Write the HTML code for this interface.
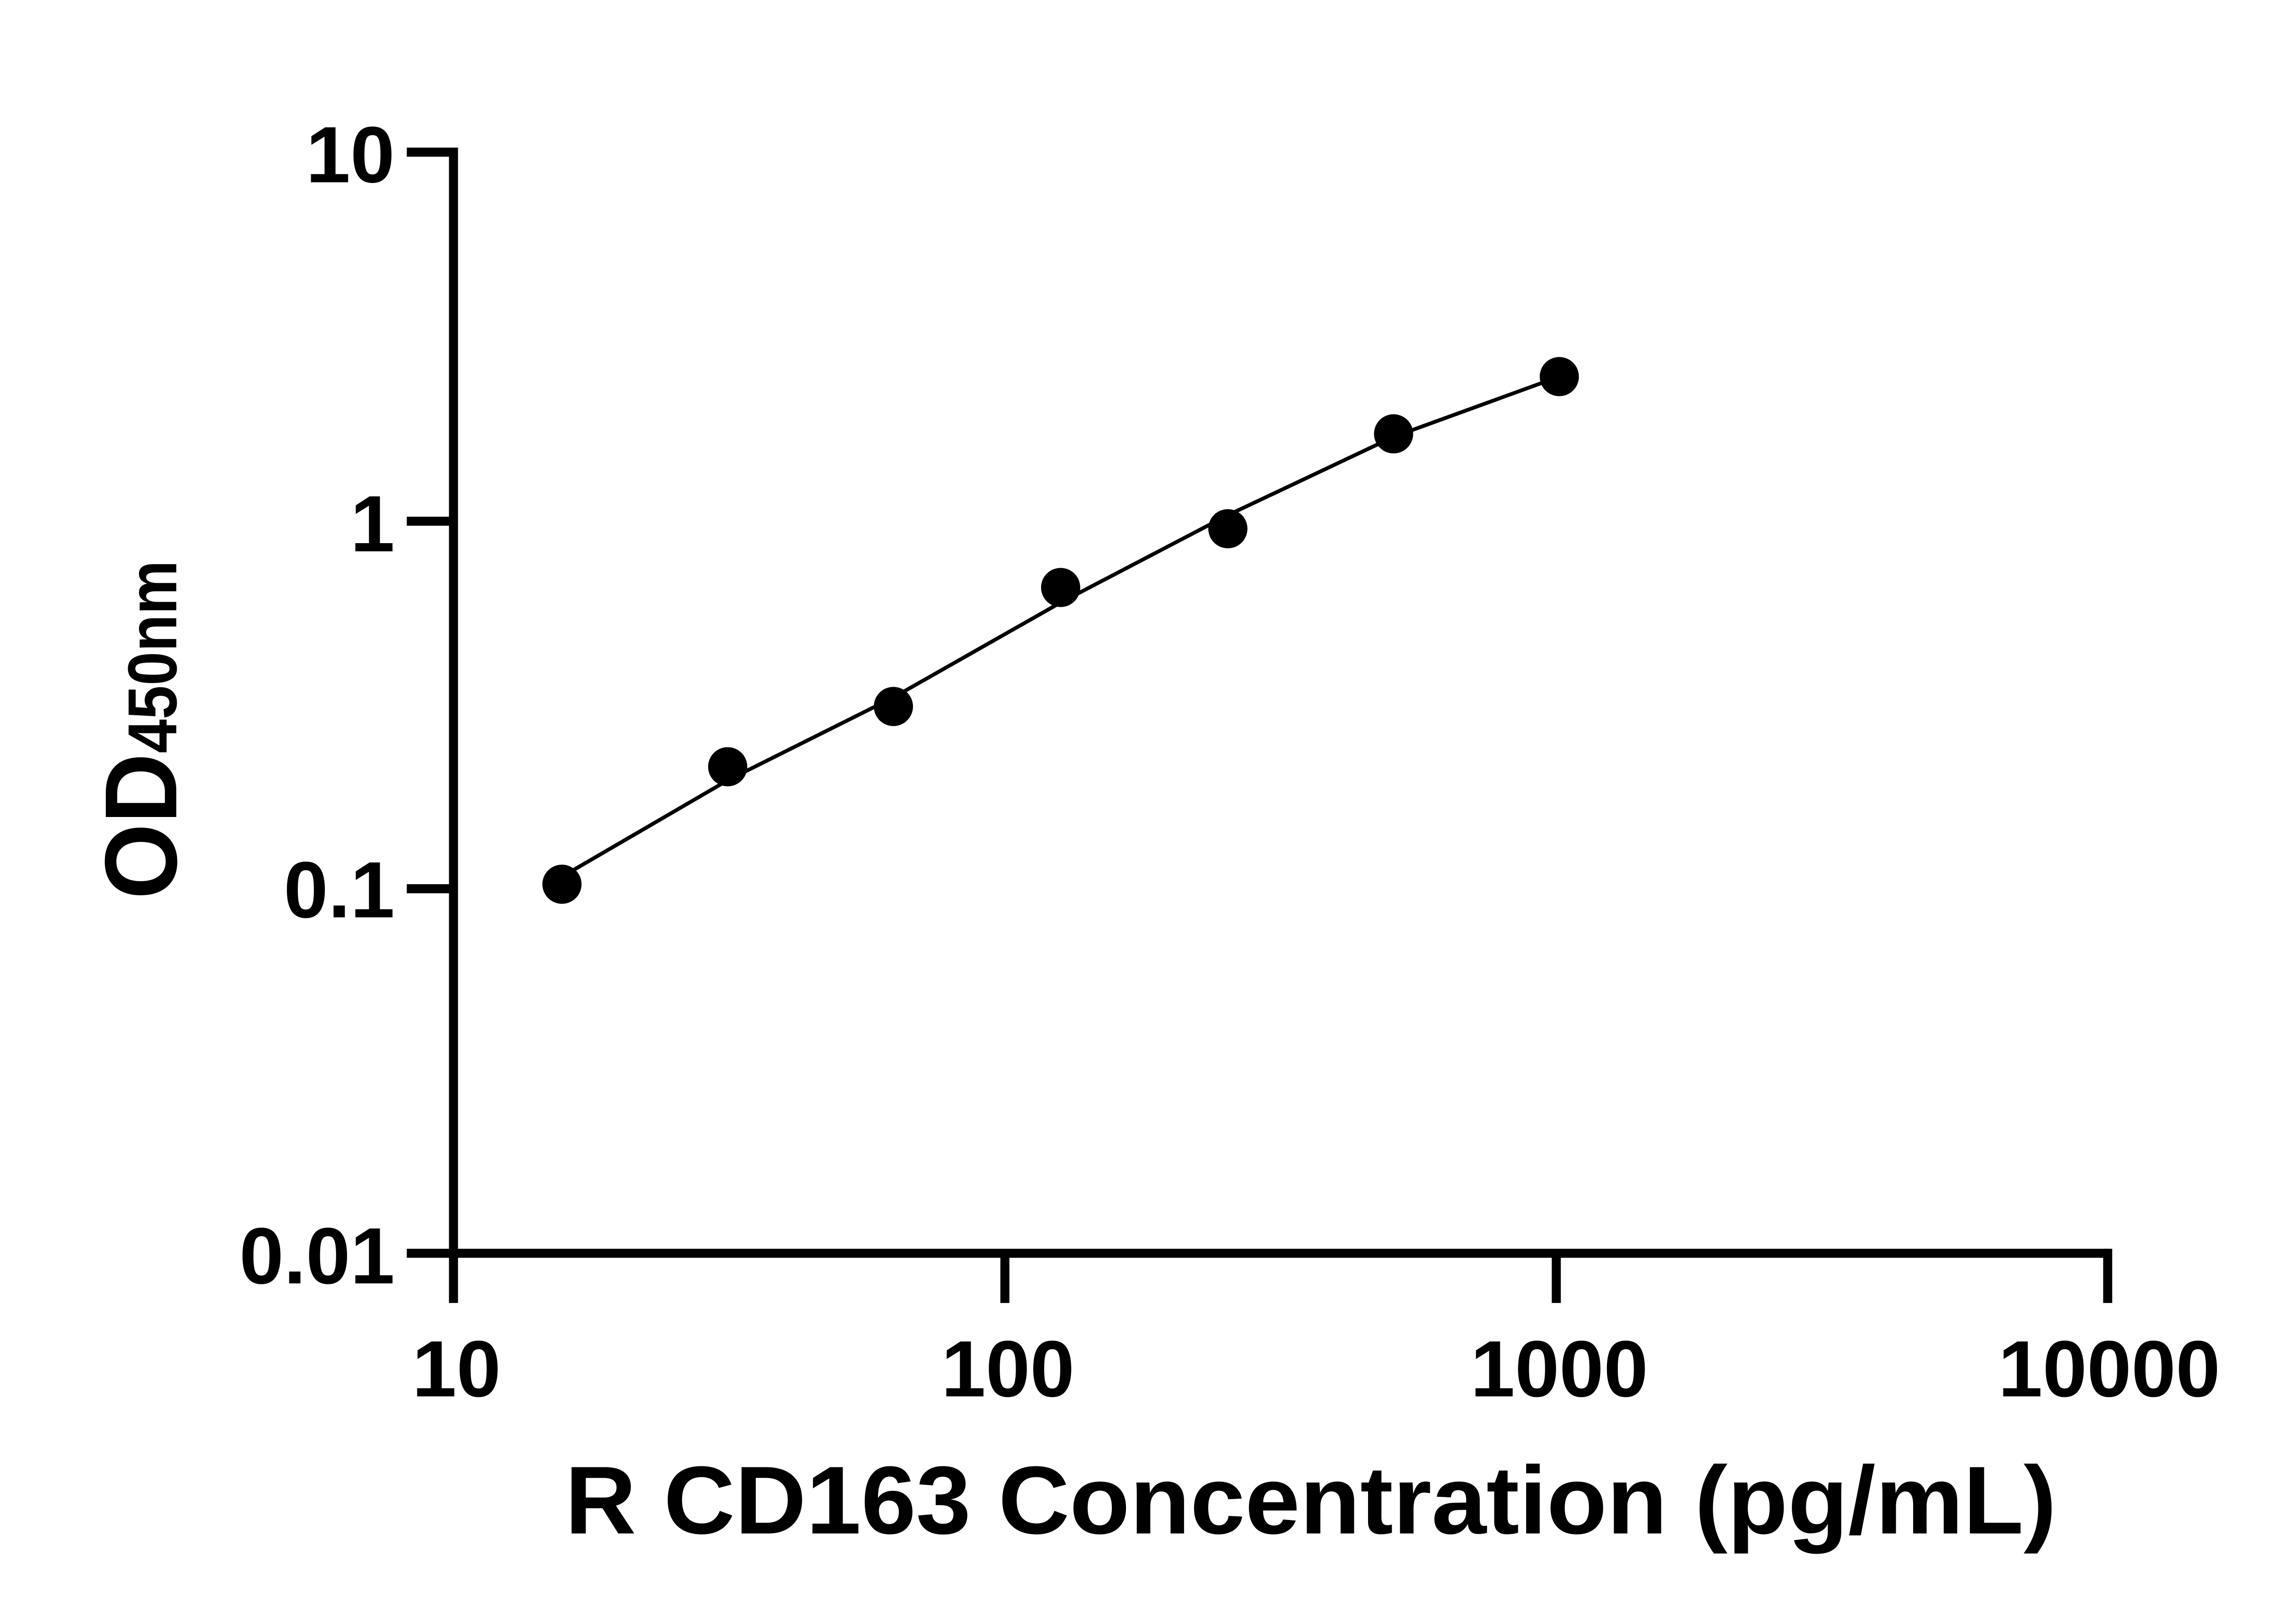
<!DOCTYPE html>
<html><head><meta charset="utf-8"><style>html,body{margin:0;padding:0;background:#fff}svg{display:block}</style></head>
<body>
<svg width="5142" height="3576" viewBox="0 0 1550.2 1078.1" xmlns="http://www.w3.org/2000/svg" font-family="Liberation Sans, Arial, sans-serif" font-weight="bold">
<rect width="1550.2" height="1078.1" fill="#fff"/>
<g stroke="#000" stroke-width="6" fill="none" stroke-linecap="butt">
<line x1="301" y1="98" x2="301" y2="865"/>
<line x1="298" y1="832" x2="1400" y2="832"/>
<line x1="270" y1="101" x2="301" y2="101"/>
<line x1="270" y1="346" x2="301" y2="346"/>
<line x1="270" y1="590" x2="301" y2="590"/>
<line x1="270" y1="832" x2="301" y2="832"/>
<line x1="667" y1="832" x2="667" y2="865"/>
<line x1="1033" y1="832" x2="1033" y2="865"/>
<line x1="1399" y1="829" x2="1399" y2="865"/>
</g>
<g font-size="53" text-anchor="end">
<text x="262" y="121">10</text>
<text x="262" y="366">1</text>
<text x="262" y="609">0.1</text>
<text x="262" y="852">0.01</text>
</g>
<g font-size="53" text-anchor="middle">
<text x="303" y="927">10</text>
<text x="669" y="927">100</text>
<text x="1035" y="927">1000</text>
<text x="1400" y="927">10000</text>
</g>
<text x="375" y="1018" font-size="64" textLength="990" lengthAdjust="spacingAndGlyphs">R CD163 Concentration (pg/mL)</text>
<text transform="translate(117,597) rotate(-90)"><tspan font-size="68" textLength="97" lengthAdjust="spacingAndGlyphs">OD</tspan><tspan font-size="46" textLength="128" lengthAdjust="spacingAndGlyphs">450nm</tspan></text>
<polyline fill="none" stroke="#000" stroke-width="2.5" points="373,582 483,518 593,463 704,400 815,342 925,290 1035,250"/>
<g fill="#000">
<circle cx="373" cy="587" r="13"/>
<circle cx="483" cy="509" r="13"/>
<circle cx="593" cy="469" r="13"/>
<circle cx="704" cy="390" r="13"/>
<circle cx="815" cy="351" r="13"/>
<circle cx="925" cy="288" r="13"/>
<circle cx="1035" cy="250" r="13"/>
</g>
</svg>
</body></html>
